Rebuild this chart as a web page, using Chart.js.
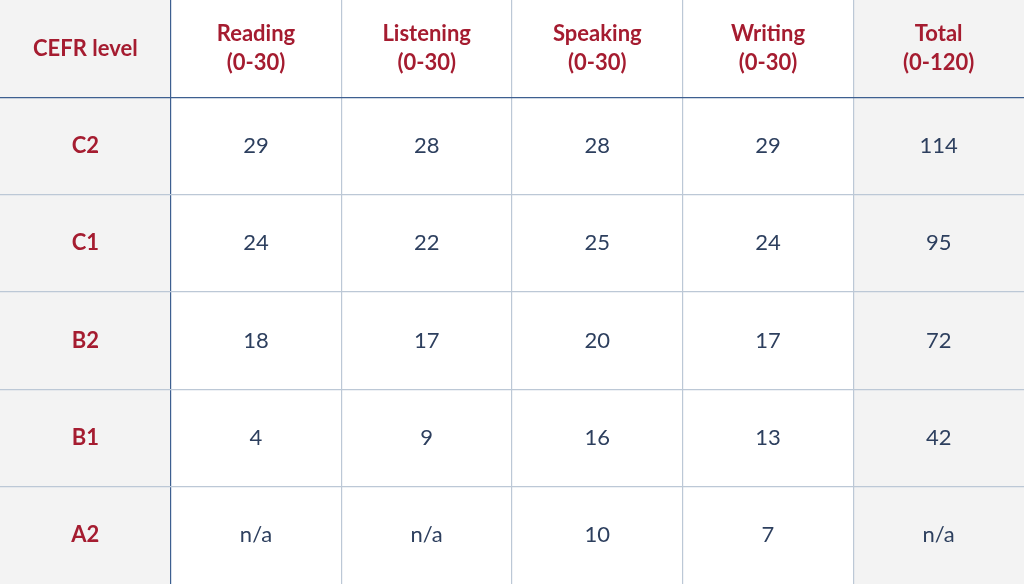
<!DOCTYPE html>
<html>
<head>
<meta charset="utf-8">
<script src="https://cdn.jsdelivr.net/npm/chart.js"></script>
<style>
  html, body { margin:0; padding:0; background:#fff; }
  #wrap { width:1024px; height:584px; }
</style>
</head>
<body>
<div id="wrap"><canvas id="tbl"></canvas></div>
<script>
const headers = ["CEFR level", "Reading\n(0-30)", "Listening\n(0-30)", "Speaking\n(0-30)", "Writing\n(0-30)", "Total\n(0-120)"];
const levels = ["C2", "C1", "B2", "B1", "A2"];
const reading = ["29", "24", "18", "4", "n/a"];
const listening = ["28", "22", "17", "9", "n/a"];
const speaking = ["28", "25", "20", "16", "10"];
const writing = ["29", "24", "17", "13", "7"];
const total = ["114", "95", "72", "42", "n/a"];

const RED = "#a51c30", BLUE_TXT = "#2d3f5e", GREY = "#f3f3f3";
const columns = [levels, reading, listening, speaking, writing, total];

// one point per cell, placed at the cell centre
const cells = [];
headers.forEach((h, c) => cells.push({ x: c + 0.5, y: 0.5, t: h, head: true }));
columns.forEach((col, c) => col.forEach((v, r) => cells.push({ x: c + 0.5, y: r + 1.5, t: v, head: c === 0 })));

const tablePlugin = {
  id: "tablePlugin",
  beforeDraw(chart) {
    const { ctx, scales: { x, y } } = chart;
    ctx.save();
    ctx.fillStyle = GREY;
    // grey first and last columns
    [0, 5].forEach(c => {
      const x0 = x.getPixelForValue(c), x1 = x.getPixelForValue(c + 1);
      ctx.fillRect(x0, y.getPixelForValue(0), x1 - x0, y.getPixelForValue(6) - y.getPixelForValue(0));
    });
    ctx.restore();
  },
  afterDatasetsDraw(chart) {
    const { ctx, scales: { x, y } } = chart;
    ctx.save();
    ctx.textAlign = "center";
    ctx.textBaseline = "middle";
    chart.data.datasets[0].data.forEach(p => {
      const px = x.getPixelForValue(p.x), py = y.getPixelForValue(p.y);
      ctx.fillStyle = p.head ? RED : BLUE_TXT;
      ctx.font = (p.head ? "bold " : "") + "22px Lato";
      const lines = p.t.split("\n");
      lines.forEach((ln, i) => ctx.fillText(ln, px, py + (i - (lines.length - 1) / 2) * 29));
    });
    ctx.restore();
  }
};

function gridColor(ctx) {
  const v = ctx.tick.value;
  if (v === 0 || v === 6) return "rgba(0,0,0,0)";
  return v === 1 ? "#3d5f90" : "#bcc8d6";
}

new Chart(document.getElementById("tbl"), {
  type: "scatter",
  data: { datasets: [{ data: cells, pointRadius: 0, pointHoverRadius: 0 }] },
  options: {
    responsive: true,
    maintainAspectRatio: false,
    animation: false,
    layout: { padding: 0 },
    plugins: { legend: { display: false }, tooltip: { enabled: false } },
    scales: {
      x: {
        type: "linear", min: 0, max: 6,
        ticks: { display: false, stepSize: 1 },
        grid: { color: gridColor, lineWidth: 1.2, drawTicks: false },
        border: { display: false }
      },
      y: {
        type: "linear", min: 0, max: 6, reverse: true,
        ticks: { display: false, stepSize: 1 },
        grid: { color: gridColor, lineWidth: 1.2, drawTicks: false },
        border: { display: false }
      }
    }
  },
  plugins: [tablePlugin]
});
</script>
</body>
</html>
